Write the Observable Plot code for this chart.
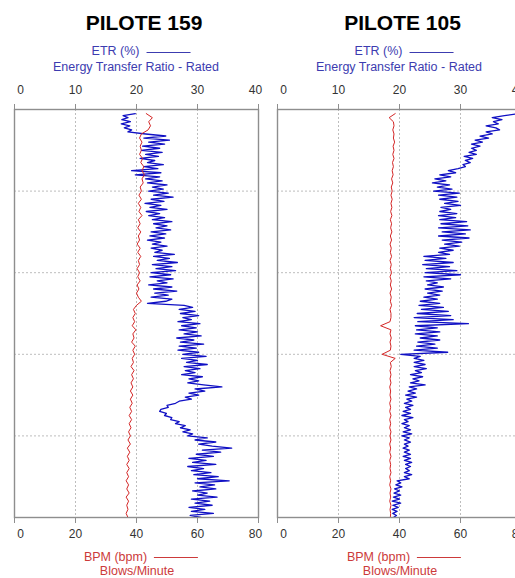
<!DOCTYPE html>
<html>
<head>
<meta charset="utf-8">
<script src="https://cdn.jsdelivr.net/npm/d3@7"></script>
<script src="https://cdn.jsdelivr.net/npm/@observablehq/plot@0.6"></script>
<style>
  html, body { margin: 0; padding: 0; background: #fff; overflow: hidden; }
  #page { position: relative; width: 515px; height: 578px; overflow: hidden; background: #fff;
          font-family: "Liberation Sans", Arial, sans-serif; }
  .panel { position: absolute; top: 0; width: 270px; height: 578px; }
  .title { position: absolute; font-weight: bold; font-size: 21px; line-height: 21px; color: #000;
           white-space: nowrap; transform: translateX(-50%); }
  .leg { position: absolute; font-size: 12.5px; line-height: 12.5px; white-space: nowrap; transform: translateX(-50%); }
  .leg .swatch { display: inline-block; width: 44px; height: 0; border-top: 1px solid currentColor;
                 vertical-align: middle; margin-left: 7px; }
  .etr { color: #3c3cb0; }
  .bpm { color: #cc3a3a; }
  .chart { position: absolute; left: 0; top: 76px; }
</style>
</head>
<body>
<div id="page"></div>
<script>
// Axis ticks and depth gridlines
const etrTicks = [0, 10, 20, 30, 40];
const bpmTicks = [0, 20, 40, 60, 80];
const depthGrid = [4, 8, 12, 16];

// Records start 0.2 m below the top; ETR logged every 0.1 m, BPM every 0.2 m
const depthStart = 0.2;
const etrStep = 0.1;
const bpmStep = 0.2;

const pileNames = ["PILOTE 159", "PILOTE 105"];

// PILOTE 159 — Energy Transfer Ratio (%)
const etr159 = [
  19.8, 17.8, 18.6, 17.6, 19.0, 17.5, 18.9, 18.0,
  19.2, 18.6, 21.5, 24.8, 21.2, 25.4, 22.0, 24.6, 21.0, 23.8,
  20.8, 24.2, 21.5, 23.6, 20.6, 23.0, 21.8, 24.4, 21.2, 23.5,
  19.2, 24.0, 19.8, 23.8, 21.5, 24.2, 21.8, 25.0, 22.6, 24.4,
  22.0, 25.2, 22.8, 26.0, 22.4, 24.5, 21.4, 24.0, 22.2, 25.0,
  21.6, 23.8, 22.0, 24.6, 22.6, 25.8, 22.8, 25.0, 23.2, 25.6,
  22.4, 24.8, 22.2, 24.6, 21.8, 24.0, 22.6, 25.0, 22.4, 24.2,
  23.0, 26.2, 22.8, 25.4, 23.4, 26.7, 22.6, 25.8, 23.2, 26.4,
  22.4, 25.6, 22.2, 26.0, 23.4, 25.0, 22.0, 25.8, 22.8, 26.6,
  23.0, 25.2, 22.4, 25.8, 24.8, 21.8, 27.8, 29.2, 27.0, 29.6,
  27.2, 30.2, 27.6, 29.0, 26.8, 30.4, 27.4, 29.8, 27.0, 30.0,
  27.8, 30.6, 26.6, 29.4, 27.2, 31.0, 27.0, 29.8, 26.8, 30.2,
  27.6, 31.4, 27.4, 30.0, 28.2, 31.6, 27.8, 30.4, 28.0, 29.6,
  27.4, 30.8, 28.6, 30.2, 28.4, 31.0, 34.0, 29.6, 31.2, 28.6,
  30.2, 28.0, 29.0, 27.0, 26.4, 25.0, 25.2, 24.0, 23.8, 24.9,
  24.6, 25.8, 25.6, 27.0, 26.4, 28.0, 27.2, 28.8, 27.6, 29.2,
  28.4, 31.6, 29.6, 33.0, 30.2, 32.4, 35.6, 30.8, 33.8, 29.8,
  32.6, 28.6, 31.4, 29.2, 33.0, 28.4, 31.0, 29.0, 32.2, 29.4,
  33.4, 30.0, 35.2, 29.6, 32.8, 30.4, 33.0, 29.2, 31.6, 30.0,
  33.2, 29.0, 32.0, 29.6, 32.4, 28.6, 31.2, 29.0, 32.6, 28.8,
  30.6
];

// PILOTE 159 — Blows per minute
const bpm159 = [
  43.2, 45.2, 44.0, 44.6, 43.8,
  41.6, 41.0, 41.8, 41.2, 41.6,
  41.0, 42.0, 41.4, 42.4, 41.8,
  42.6, 41.8, 42.2, 41.2, 41.6,
  40.8, 41.6, 40.6, 41.4, 40.8,
  41.8, 40.6, 41.2, 40.4, 41.4,
  40.6, 41.0, 40.2, 41.2, 40.4,
  41.4, 40.6, 41.0, 40.2, 41.0,
  40.4, 41.2, 40.2, 40.8, 40.0,
  40.6, 41.6, 40.0, 39.0, 39.6,
  38.8, 39.4, 38.6, 39.8, 38.8,
  39.2, 38.4, 39.6, 38.8, 39.4,
  38.6, 39.0, 38.2, 39.2, 38.4,
  39.0, 38.2, 38.8, 38.0, 38.8,
  38.0, 38.6, 37.8, 38.4, 37.6,
  38.4, 37.6, 38.2, 37.4, 38.0,
  37.2, 38.0, 37.0, 37.8, 37.0,
  37.6, 36.8, 37.6, 36.8, 37.4,
  36.6, 37.4, 36.8, 37.6, 36.6,
  37.4, 36.8, 37.2, 36.6, 37.2
];

// PILOTE 105 — Energy Transfer Ratio (%)
const etr105 = [
  39.6, 37.2, 35.2, 36.8, 35.4, 36.2, 34.2, 35.8,
  36.4, 34.2, 35.2, 33.2, 34.6, 32.4, 33.6, 31.8, 33.2, 31.8,
  32.6, 31.4, 32.6, 30.6, 32.0, 30.8, 31.6, 30.4, 30.8, 29.6,
  28.0, 29.2, 26.6, 28.4, 25.8, 27.6, 25.4, 28.2, 26.2, 28.6,
  25.6, 29.8, 26.4, 29.4, 26.6, 29.6, 27.4, 30.0, 26.8, 28.4,
  26.6, 29.4, 26.4, 29.2, 26.6, 31.0, 26.8, 31.2, 26.4, 31.6,
  27.0, 30.8, 26.4, 31.4, 27.0, 30.2, 27.4, 29.8, 26.6, 28.8,
  26.4, 28.2, 24.0, 27.6, 24.2, 28.8, 23.8, 28.2, 24.4, 29.4,
  24.2, 30.0, 24.0, 28.4, 24.4, 26.2, 24.6, 27.2, 24.2, 27.0,
  24.6, 26.6, 24.0, 26.2, 23.4, 26.6, 23.2, 27.2, 23.6, 28.0,
  22.9, 28.4, 22.4, 28.8, 23.0, 31.3, 22.6, 26.2, 22.8, 26.6,
  22.6, 26.2, 23.4, 26.6, 23.0, 25.8, 22.8, 26.2, 22.4, 27.9,
  20.2, 23.4, 22.4, 24.0, 22.4, 24.2, 22.4, 24.4, 22.6, 23.6,
  21.8, 23.8, 22.2, 23.2, 21.8, 24.2, 21.6, 22.8, 21.4, 22.6,
  21.0, 22.8, 21.2, 22.0, 20.8, 22.2, 21.0, 21.8, 20.6, 21.8,
  20.4, 22.2, 20.8, 21.4, 20.4, 21.6, 20.8, 21.8, 20.6, 22.0,
  20.4, 21.6, 20.8, 21.8, 20.8, 21.4, 20.6, 21.6, 20.8, 21.8,
  20.6, 21.8, 20.8, 22.0, 21.0, 21.8, 21.0, 21.6, 20.8, 22.0,
  20.8, 21.6, 19.6, 20.2, 19.4, 20.4, 19.2, 20.0, 19.1, 20.2,
  19.0, 20.0, 18.8, 20.2, 18.9, 19.8, 18.8, 19.6, 18.9, 19.5,
  19.0
];

// PILOTE 105 — Blows per minute
const bpm105 = [
  38.6, 36.6, 38.0, 38.2, 37.8,
  38.2, 38.0, 38.4, 37.9, 38.2,
  37.8, 38.2, 37.7, 38.0, 37.6,
  37.9, 37.4, 37.8, 37.3, 37.6,
  37.2, 37.6, 37.2, 37.5, 37.1,
  37.5, 37.0, 37.4, 37.1, 37.5,
  37.0, 37.4, 36.9, 37.3, 37.0,
  37.4, 36.9, 37.3, 37.0, 37.4,
  36.9, 37.3, 37.0, 37.4, 36.9,
  37.3, 37.0, 37.4, 36.9, 37.2,
  37.2, 36.9, 33.8, 37.2, 36.9,
  37.3, 36.9, 37.2, 37.0, 34.3,
  38.6, 37.0, 37.3, 36.9, 37.2,
  36.9, 37.2, 36.8, 37.1, 36.9,
  37.2, 36.8, 37.1, 36.8, 37.2,
  36.8, 37.1, 36.8, 37.2, 36.9,
  37.2, 36.8, 37.1, 36.8, 37.2,
  36.8, 37.1, 36.9, 37.2, 36.8,
  37.1, 36.8, 37.2, 36.9, 37.1,
  36.8, 37.2, 36.9, 37.1, 37.0
];

const etrColor = "#1010c4";
const bpmColor = "#d42626";
const frameColor = "#8e8e8e";
const gridColor = "#bdbdbd";
const labelColor = "#333";

// BPM shares the panel with ETR: 0–80 bpm maps onto the 0–40 % scale
const bpmToEtr = d3.scaleLinear([0, 80], [0, 40]);

const page = document.getElementById("page");

function addText(parent, cls, html, left, top) {
  const el = document.createElement("div");
  el.className = cls;
  el.innerHTML = html;
  el.style.left = left + "px";
  el.style.top = top + "px";
  parent.appendChild(el);
  return el;
}

function drawPanel(name, etrValues, bpmValues, panelLeft, titleDx) {
  const panel = document.createElement("div");
  panel.className = "panel";
  panel.style.left = panelLeft + "px";
  page.appendChild(panel);

  const frameCenter = 136;
  addText(panel, "title", name, frameCenter + titleDx, 12.2);
  addText(panel, "leg etr", 'ETR (%)<span class="swatch"></span>', frameCenter + 5, 45.4);
  addText(panel, "leg etr", "Energy Transfer Ratio - Rated", frameCenter, 61.4);
  addText(panel, "leg bpm", 'BPM (bpm)<span class="swatch"></span>', frameCenter + 5, 551.2);
  addText(panel, "leg bpm", "Blows/Minute", frameCenter + 1, 564.6);

  const etrRows = etrValues.map((etr, i) => ({depth: depthStart + i * etrStep, etr}));
  const bpmRows = bpmValues.map((bpm, i) => ({depth: depthStart + i * bpmStep, bpm}));
  const bpmAxisPos = bpmTicks.map(bpmToEtr);
  const bpmLabel = (v) => Math.round(bpmToEtr.invert(v));

  const chart = Plot.plot({
    width: 270,
    height: 469,
    marginTop: 33,
    marginRight: 12,
    marginBottom: 28,
    marginLeft: 14,
    style: {
      fontFamily: '"Liberation Sans", Arial, sans-serif',
      fontSize: "12px",
      background: "transparent",
      overflow: "visible"
    },
    x: {domain: [0, 40], label: null},
    y: {domain: [0, 20], reverse: true, axis: null, label: null},
    marks: [
      Plot.gridX([10, 20, 30], {stroke: gridColor, strokeOpacity: 1, strokeDasharray: "2,2"}),
      Plot.gridY(depthGrid, {stroke: gridColor, strokeOpacity: 1, strokeDasharray: "2,2"}),
      Plot.line(etrRows, {x: "etr", y: "depth", stroke: etrColor, strokeWidth: 1.3, clip: true}),
      Plot.line(bpmRows, {x: (d) => bpmToEtr(d.bpm), y: "depth", stroke: bpmColor, strokeWidth: 1, clip: true}),
      Plot.frame({stroke: frameColor, strokeWidth: 1.4}),

      // top axis: ETR (%)
      Plot.axisX(etrTicks, {anchor: "top", tickSize: 6, fill: "none", stroke: frameColor, label: null}),
      Plot.axisX(etrTicks.slice(1, -1), {anchor: "top", tickSize: 0, tickPadding: 16, fill: labelColor, label: null}),
      Plot.axisX(etrTicks.slice(0, 1), {anchor: "top", tickSize: 0, tickPadding: 16, dx: 6, fill: labelColor, label: null}),
      Plot.axisX(etrTicks.slice(-1), {anchor: "top", tickSize: 0, tickPadding: 16, dx: -3, fill: labelColor, label: null}),

      // bottom axis: BPM
      Plot.axisX(bpmAxisPos, {anchor: "bottom", tickSize: 6, fill: "none", stroke: frameColor, label: null}),
      Plot.axisX(bpmAxisPos.slice(1, -1), {anchor: "bottom", tickSize: 0, tickPadding: 12, tickFormat: bpmLabel, fill: labelColor, label: null}),
      Plot.axisX(bpmAxisPos.slice(0, 1), {anchor: "bottom", tickSize: 0, tickPadding: 12, dx: 6, tickFormat: bpmLabel, fill: labelColor, label: null}),
      Plot.axisX(bpmAxisPos.slice(-1), {anchor: "bottom", tickSize: 0, tickPadding: 12, dx: -3, tickFormat: bpmLabel, fill: labelColor, label: null})
    ]
  });
  chart.classList.add("chart");
  panel.appendChild(chart);
}

drawPanel(pileNames[0], etr159, bpm159, 0, 8);
drawPanel(pileNames[1], etr105, bpm105, 263, 3.5);
</script>
</body>
</html>
